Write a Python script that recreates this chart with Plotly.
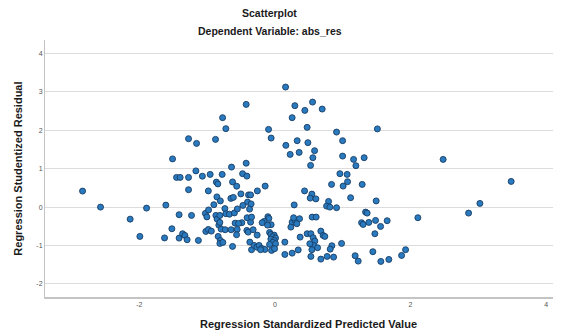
import plotly.graph_objects as go

# Regression Standardized Predicted Value (x) and Studentized Residual (y)
pred = [
    -2.836, -2.571, -2.134, -1.991, -1.892, -1.608, -1.627, -1.519, -1.412, -1.412,
    -1.273, -1.229, -1.361, -1.327, -1.294, -1.128, -1.273, -1.155, -1.509, -1.450,
    -1.397, -1.273, -1.165, -0.771, -0.723, -0.875, -0.639, -0.423, -1.069, -0.954,
    -0.777, -0.476, -0.423, -0.413, -0.863, -0.841, -0.624, -0.563, -0.258, -0.981,
    -0.855, -0.804, -0.649, -0.612, -0.900, -1.025, -0.978, -1.003, -0.870, -0.851,
    -0.811, -0.737, -0.723, -0.671, -0.597, -0.553, -0.586, -1.018, -0.981, -0.937,
    -0.826, -0.792, -0.733, -0.645, -0.556, -0.836, -0.804, -0.811, -0.767, -0.624,
    -0.811, -0.501, -0.388, -0.358, -0.403, -0.350, -0.472, -0.373, -0.358, -0.487,
    -0.535, -0.409, -0.344, -0.413, -0.394, -0.320, -0.261, -0.565, -0.369, -0.344,
    -0.305, -0.265, -0.232, -0.196, -0.147, -0.211, -0.143, -0.093, -0.055, 0.158,
    0.295, 0.255, 0.442, 0.556, 0.698, 0.476, 0.329, 0.487, 0.162, 0.226,
    0.358, 0.586, 0.560, 0.527, 0.910, 0.999, 0.999, 1.161, 1.317, 1.195,
    1.512, 0.959, 1.066, 0.836, 1.007, 1.072, 1.288, 0.438, -0.103, -0.088,
    -0.158, -0.055, -0.187, -0.108, -0.078, -0.059, -0.010, -0.034, 0.010, -0.059,
    -0.010, -0.029, 0.010, -0.078, -0.049, -0.004, 0.147, 0.147, 0.255, 0.344,
    0.285, 0.546, 0.521, 0.605, 0.255, 0.295, 0.276, 0.364, 0.324, 0.236,
    0.550, 0.609, 0.476, 0.531, 0.678, 0.712, 0.565, 0.590, 0.571, 0.630,
    0.546, 0.516, 0.531, 0.678, 0.771, 0.373, 1.117, 0.792, 0.763, 0.811,
    0.910, 1.338, 1.361, 1.279, 1.302, 1.386, 1.485, 1.559, 1.656, 1.475,
    2.109, 0.737, 0.984, 0.841, 0.816, 0.866, 1.184, 1.229, 1.445, 1.563,
    1.681, 1.869, 1.928, 1.494, 2.482, 3.485, 3.024, 2.857,
]
resid = [
    0.417, 0.000, -0.313, -0.763, -0.026, 0.052, -0.802, -0.563, -0.198, -0.807,
    0.453, -0.216, -0.693, -0.737, -0.849, -0.867, 1.781, 1.659, 1.255, 0.773,
    0.773, 0.773, 0.943, 2.328, 2.042, 1.763, 1.042, 2.674, 0.805, 0.852,
    0.852, 0.870, 1.143, 0.807, 0.651, 0.604, 0.656, 0.544, 0.422, 0.422,
    0.266, 0.161, 0.227, 0.253, 0.063, -0.164, -0.073, -0.255, -0.216, -0.313,
    -0.216, -0.039, -0.172, -0.185, -0.151, -0.047, -0.417, -0.633, -0.581, -0.625,
    -0.469, -0.573, -0.589, -0.589, -0.581, -0.763, -0.867, -0.945, -0.919, -1.023,
    -0.398, 0.344, 0.318, 0.318, 0.130, 0.083, 0.044, -0.052, -0.391, -0.406,
    -0.424, -0.276, -0.260, -0.607, -0.651, -0.589, -0.729, -0.719, -0.911, -1.109,
    -0.997, -1.042, -0.997, -1.076, -1.102, -1.109, 0.547, 2.023, 1.797, 3.125,
    2.641, 2.328, 2.518, 2.734, 2.552, 2.076, 1.729, 1.677, 1.607, 1.372,
    1.424, 1.469, 1.286, 1.086, 1.953, 1.729, 1.328, 1.242, 1.286, 1.078,
    2.036, 0.870, 0.852, 0.591, 0.547, 0.661, 0.591, 0.422, -0.250, -0.294,
    -0.372, -0.458, -0.406, -0.469, -0.659, -0.711, -0.729, -0.771, -0.807, -0.833,
    -0.867, -0.919, -0.953, -0.971, -1.128, -1.083, -0.911, -1.232, -1.198, -1.115,
    0.057, 0.339, 0.234, 0.214, -0.391, -0.346, -0.276, -0.302, -0.432, -0.521,
    -0.260, -0.260, -0.693, -0.693, -0.625, -0.737, -0.797, -0.885, -0.997, -1.057,
    -1.109, -0.953, -1.284, -1.354, -1.284, -0.781, 0.245, 0.148, 0.026, 0.000,
    -0.016, -0.130, -0.156, -0.406, -0.451, -0.398, -0.346, -0.503, -0.354, -0.693,
    -0.276, -0.763, -0.945, -1.005, -1.094, -1.302, -1.266, -1.406, -1.161, -1.414,
    -1.362, -1.258, -1.109, 0.161, 1.242, 0.669, 0.096, -0.156,
]

x_ticks = [-2, 0, 2, 4]
y_ticks = [-2, -1, 0, 1, 2, 3, 4]

FONT = "Liberation Sans"

fig = go.Figure(
    go.Scatter(
        x=pred, y=resid, mode="markers",
        marker=dict(size=6, color="#2a7ac0", line=dict(color="#173c63", width=0.9)),
        hoverinfo="skip",
    )
)

# page body has an 8px default margin, so the figure is sized to fill the rest
fig.update_layout(
    width=553, height=323,
    margin=dict(l=37, r=0, t=32, b=34),
    paper_bgcolor="white", plot_bgcolor="white",
    showlegend=False,
    font=dict(family=FONT, color="#222"),
)

fig.update_xaxes(
    range=[-3.39, 4.22], tickvals=x_ticks, ticktext=[str(v) for v in x_ticks],
    showgrid=False, zeroline=False, showline=True, linecolor="#c4c4c4", linewidth=2,
    ticks="", tickfont=dict(size=7, color="#555", family=FONT),
)
fig.update_yaxes(
    range=[-2.34, 4.35], tickvals=y_ticks, ticktext=[str(v) for v in y_ticks],
    showgrid=True, gridcolor="#dcdcdc", gridwidth=1.3, zeroline=False,
    showline=True, linecolor="#c4c4c4", linewidth=1,
    ticks="", tickfont=dict(size=7, color="#555", family=FONT),
)

title_font = dict(family=FONT, size=10.5, color="#1a1a1a")
axis_title_font = dict(family=FONT, size=11, color="#1a1a1a")
fig.add_annotation(text="<b>Scatterplot</b>", xref="paper", yref="paper",
                   x=0.436, y=1.105, xanchor="center", yanchor="middle",
                   showarrow=False, font=title_font)
fig.add_annotation(text="<b>Dependent Variable: abs_res</b>", xref="paper", yref="paper",
                   x=0.436, y=1.035, xanchor="center", yanchor="middle",
                   showarrow=False, font=title_font)
fig.add_annotation(text="<b>Regression Standardized Predicted Value</b>", xref="paper", yref="paper",
                   x=0.5116, y=-0.1064, xanchor="center", yanchor="middle",
                   showarrow=False, font=axis_title_font)
fig.add_annotation(text="<b>Regression Studentized Residual</b>", xref="paper", yref="paper",
                   x=-0.0523, y=0.4994, xanchor="center", yanchor="middle", textangle=-90,
                   showarrow=False, font=axis_title_font)

fig.write_html("out.html")
